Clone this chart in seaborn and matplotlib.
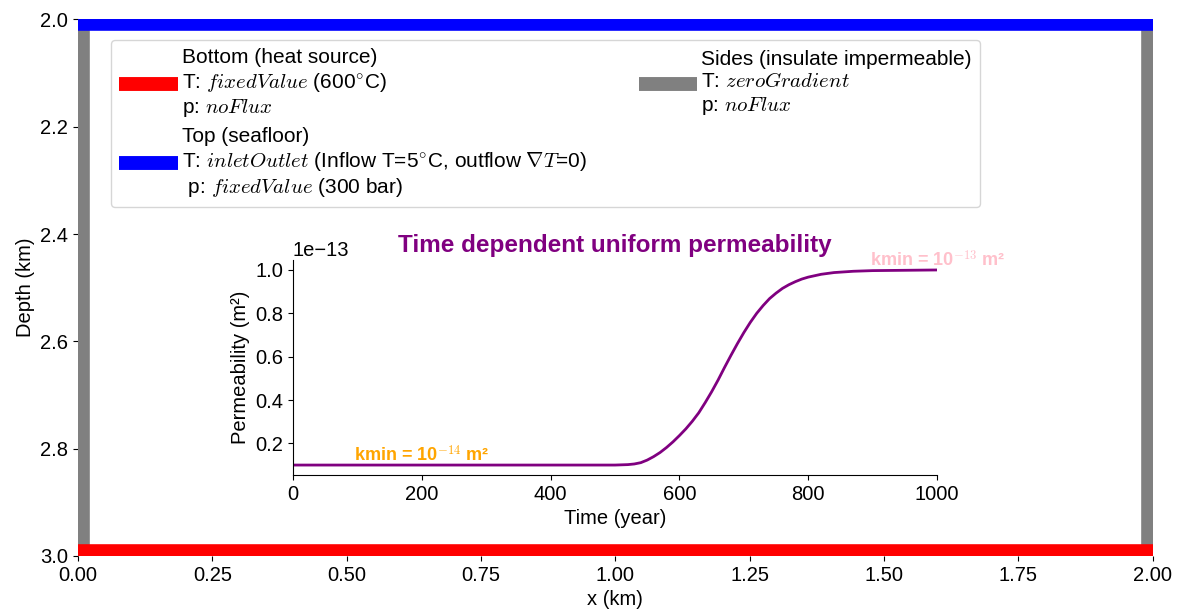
import matplotlib
matplotlib.use("Agg")
import matplotlib.pyplot as plt
from matplotlib.lines import Line2D
import pandas as pd
import seaborn as sns

# boundary geometry (km)
x_range = [0.0, 2.0]
depth_range = [2.0, 3.0]

# legend labels for the boundary conditions
bc_labels = [
    "Bottom (heat source)\nT: $fixedValue$ (600$^{\\circ}$C)\np: $noFlux$",
    "Top (seafloor)\nT: $inletOutlet$ (Inflow T=5$^{\\circ}$C, outflow $\\nabla T$=0)\n p: $fixedValue$ (300 bar)",
    "Sides (insulate impermeable)\nT: $zeroGradient$\np: $noFlux$",
]
bc_colors = ["red", "blue", "gray"]

# permeability history (units of 1e-13 m2)
time_year = [0, 500, 510, 520, 530, 540, 550, 560, 570, 580, 590, 600, 610,
             620, 630, 640, 650, 660, 670, 680, 690, 700, 710, 720, 730, 740,
             750, 760, 770, 780, 790, 800, 820, 840, 870, 900, 1000]
perm_e13 = [0.100, 0.100, 0.101, 0.102, 0.105, 0.111, 0.123, 0.139, 0.158,
            0.181, 0.207, 0.236, 0.267, 0.302, 0.341, 0.388, 0.438, 0.492,
            0.550, 0.606, 0.660, 0.711, 0.758, 0.800, 0.836, 0.868, 0.893,
            0.915, 0.932, 0.946, 0.958, 0.967, 0.980, 0.988, 0.994, 0.997,
            1.000]

sns.set_style("ticks")
plt.rcParams['font.family'] = ['Liberation Sans', 'DejaVu Sans']
plt.rcParams['mathtext.fontset'] = 'cm'
plt.rcParams['font.size'] = 14.5
plt.rcParams['text.color'] = 'black'
plt.rcParams['axes.labelcolor'] = 'black'
plt.rcParams['xtick.color'] = 'black'
plt.rcParams['ytick.color'] = 'black'
plt.rcParams['axes.edgecolor'] = 'black'

fig = plt.figure(figsize=(11.8, 6.14), dpi=100)
ax = fig.add_axes([0.0661, 0.0945, 0.9106, 0.8738])

lw_bc = 17
# sides first, top/bottom on top of them
ax.plot([x_range[0]] * 2, depth_range, color=bc_colors[2], lw=lw_bc, solid_capstyle='butt')
ax.plot([x_range[1]] * 2, depth_range, color=bc_colors[2], lw=lw_bc, solid_capstyle='butt')
ax.plot(x_range, [depth_range[0]] * 2, color=bc_colors[1], lw=lw_bc, solid_capstyle='butt')
ax.plot(x_range, [depth_range[1]] * 2, color=bc_colors[0], lw=lw_bc, solid_capstyle='butt')

ax.set_xlim(x_range)
ax.set_ylim(depth_range[1], depth_range[0])
ax.set_xticks([0, 0.25, 0.5, 0.75, 1.0, 1.25, 1.5, 1.75, 2.0])
ax.set_yticks([2.0, 2.2, 2.4, 2.6, 2.8, 3.0])
ax.set_xlabel("x (km)")
ax.set_ylabel("Depth (km)")
for s in ax.spines.values():
    s.set_visible(False)

handles = [Line2D([0], [0], color=c, lw=10, solid_capstyle='butt') for c in bc_colors]
ax.legend(handles, bc_labels, ncol=2, loc='upper left', bbox_to_anchor=(0.0307, 0.962),
          borderaxespad=0, handlelength=2.8, handletextpad=0.2, fontsize=15,
          labelspacing=0.4, columnspacing=2.5)

# inset: permeability vs time
axin = fig.add_axes([0.2483, 0.2267, 0.5458, 0.3495])
df = pd.DataFrame({"Time (year)": time_year,
                   "perm": [v * 1e-13 for v in perm_e13]})
sns.lineplot(data=df, x="Time (year)", y="perm", ax=axin, color="purple", lw=2)
axin.set_xlim(0, 1000)
axin.set_xticks([0, 200, 400, 600, 800, 1000])
axin.set_yticks([0.2e-13, 0.4e-13, 0.6e-13, 0.8e-13, 1.0e-13])
axin.set_ylabel("Permeability (m²)")
axin.set_xlabel("Time (year)")
axin.set_title("Time dependent uniform permeability", color="purple",
               fontweight="bold", fontsize=17.5)
sns.despine(ax=axin)
axin.text(95, 0.115e-13, "kmin = 10$^{-14}$ m²", color="orange",
          fontweight="bold", fontsize=13, va="baseline")
axin.text(896, 1.015e-13, "kmin = 10$^{-13}$ m²", color="pink",
          fontweight="bold", fontsize=13, va="baseline")

fig.savefig("out.png", dpi=100)
